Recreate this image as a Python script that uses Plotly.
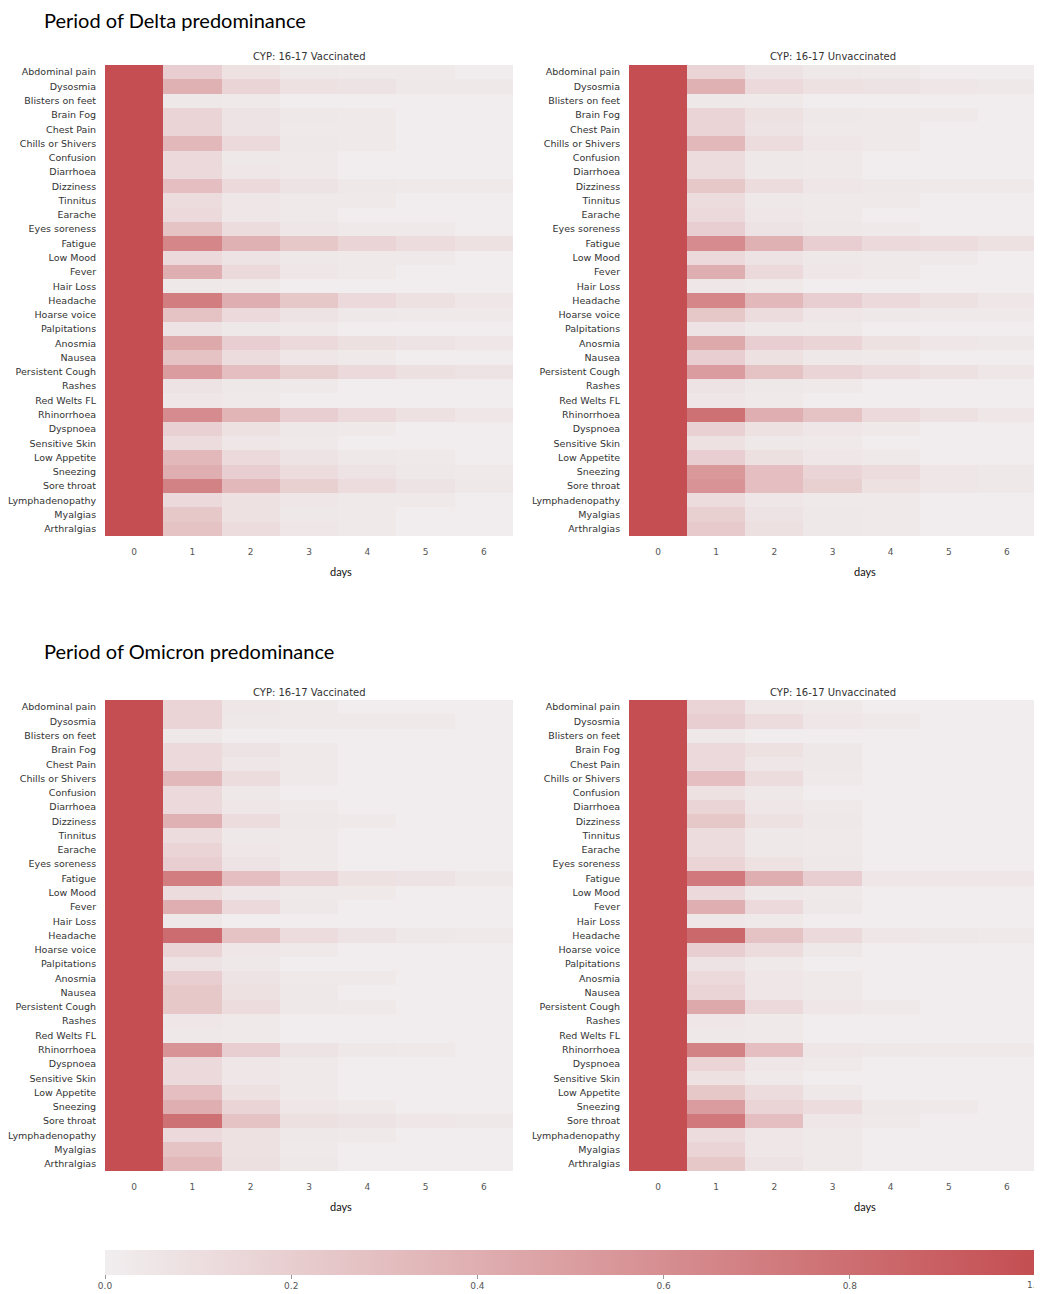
import plotly.graph_objects as go

symptoms = ["Abdominal pain", "Dysosmia", "Blisters on feet", "Brain Fog", "Chest Pain",
            "Chills or Shivers", "Confusion", "Diarrhoea", "Dizziness", "Tinnitus", "Earache",
            "Eyes soreness", "Fatigue", "Low Mood", "Fever", "Hair Loss", "Headache",
            "Hoarse voice", "Palpitations", "Anosmia", "Nausea", "Persistent Cough", "Rashes",
            "Red Welts FL", "Rhinorrhoea", "Dyspnoea", "Sensitive Skin", "Low Appetite",
            "Sneezing", "Sore throat", "Lymphadenopathy", "Myalgias", "Arthralgias"]
days = [0, 1, 2, 3, 4, 5, 6]

delta_vacc = [
    [1, 0.20, 0.08, 0.04, 0.03, 0.03, 0.01],
    [1, 0.38, 0.16, 0.08, 0.07, 0.04, 0.04],
    [1, 0.04, 0.03, 0.01, 0.01, 0.01, 0.01],
    [1, 0.16, 0.07, 0.04, 0.03, 0.01, 0.01],
    [1, 0.16, 0.07, 0.03, 0.03, 0.01, 0.01],
    [1, 0.34, 0.13, 0.04, 0.03, 0.01, 0.01],
    [1, 0.13, 0.04, 0.03, 0.01, 0.01, 0.01],
    [1, 0.13, 0.05, 0.03, 0.01, 0.01, 0.01],
    [1, 0.30, 0.13, 0.07, 0.04, 0.03, 0.03],
    [1, 0.11, 0.05, 0.03, 0.03, 0.01, 0.01],
    [1, 0.13, 0.05, 0.03, 0.01, 0.01, 0.01],
    [1, 0.27, 0.11, 0.05, 0.03, 0.03, 0.01],
    [1, 0.65, 0.38, 0.24, 0.16, 0.11, 0.08],
    [1, 0.13, 0.07, 0.04, 0.03, 0.03, 0.01],
    [1, 0.40, 0.13, 0.05, 0.03, 0.01, 0.01],
    [1, 0.04, 0.03, 0.01, 0.01, 0.01, 0.01],
    [1, 0.70, 0.40, 0.24, 0.13, 0.08, 0.05],
    [1, 0.27, 0.13, 0.07, 0.04, 0.03, 0.03],
    [1, 0.07, 0.04, 0.03, 0.01, 0.01, 0.01],
    [1, 0.43, 0.20, 0.13, 0.09, 0.07, 0.05],
    [1, 0.27, 0.11, 0.05, 0.03, 0.01, 0.01],
    [1, 0.51, 0.30, 0.19, 0.13, 0.09, 0.07],
    [1, 0.07, 0.04, 0.03, 0.01, 0.01, 0.01],
    [1, 0.05, 0.03, 0.01, 0.01, 0.01, 0.01],
    [1, 0.61, 0.36, 0.20, 0.13, 0.08, 0.05],
    [1, 0.18, 0.08, 0.04, 0.03, 0.01, 0.01],
    [1, 0.11, 0.05, 0.03, 0.01, 0.01, 0.01],
    [1, 0.34, 0.13, 0.07, 0.04, 0.03, 0.01],
    [1, 0.40, 0.20, 0.11, 0.07, 0.04, 0.03],
    [1, 0.68, 0.34, 0.19, 0.11, 0.07, 0.04],
    [1, 0.13, 0.08, 0.05, 0.03, 0.03, 0.01],
    [1, 0.24, 0.08, 0.04, 0.03, 0.01, 0.01],
    [1, 0.27, 0.11, 0.05, 0.03, 0.01, 0.01],
]

delta_unvacc = [
    [1, 0.16, 0.07, 0.04, 0.03, 0.01, 0.01],
    [1, 0.38, 0.13, 0.08, 0.07, 0.05, 0.04],
    [1, 0.04, 0.03, 0.01, 0.01, 0.01, 0.01],
    [1, 0.16, 0.08, 0.04, 0.03, 0.03, 0.01],
    [1, 0.16, 0.07, 0.03, 0.03, 0.01, 0.01],
    [1, 0.34, 0.11, 0.05, 0.03, 0.01, 0.01],
    [1, 0.11, 0.04, 0.03, 0.01, 0.01, 0.01],
    [1, 0.11, 0.04, 0.03, 0.01, 0.01, 0.01],
    [1, 0.24, 0.11, 0.05, 0.04, 0.03, 0.03],
    [1, 0.11, 0.04, 0.03, 0.03, 0.01, 0.01],
    [1, 0.13, 0.05, 0.03, 0.01, 0.01, 0.01],
    [1, 0.20, 0.07, 0.04, 0.03, 0.01, 0.01],
    [1, 0.61, 0.38, 0.20, 0.13, 0.11, 0.08],
    [1, 0.13, 0.07, 0.04, 0.03, 0.03, 0.01],
    [1, 0.40, 0.13, 0.05, 0.03, 0.01, 0.01],
    [1, 0.05, 0.03, 0.01, 0.01, 0.01, 0.01],
    [1, 0.65, 0.34, 0.20, 0.13, 0.08, 0.05],
    [1, 0.24, 0.11, 0.05, 0.04, 0.03, 0.03],
    [1, 0.07, 0.04, 0.03, 0.01, 0.01, 0.01],
    [1, 0.43, 0.20, 0.16, 0.08, 0.05, 0.04],
    [1, 0.20, 0.08, 0.04, 0.03, 0.01, 0.01],
    [1, 0.51, 0.27, 0.16, 0.11, 0.08, 0.05],
    [1, 0.07, 0.04, 0.03, 0.01, 0.01, 0.01],
    [1, 0.05, 0.03, 0.01, 0.01, 0.01, 0.01],
    [1, 0.78, 0.40, 0.27, 0.13, 0.08, 0.05],
    [1, 0.18, 0.08, 0.05, 0.03, 0.01, 0.01],
    [1, 0.08, 0.04, 0.03, 0.01, 0.01, 0.01],
    [1, 0.20, 0.09, 0.05, 0.03, 0.01, 0.01],
    [1, 0.54, 0.30, 0.16, 0.11, 0.05, 0.04],
    [1, 0.57, 0.30, 0.19, 0.08, 0.05, 0.04],
    [1, 0.11, 0.05, 0.03, 0.03, 0.01, 0.01],
    [1, 0.19, 0.07, 0.04, 0.03, 0.01, 0.01],
    [1, 0.22, 0.09, 0.04, 0.03, 0.01, 0.01],
]

omicron_vacc = [
    [1, 0.16, 0.05, 0.03, 0.01, 0.01, 0.01],
    [1, 0.16, 0.04, 0.03, 0.03, 0.03, 0.01],
    [1, 0.04, 0.01, 0.01, 0.01, 0.01, 0.01],
    [1, 0.13, 0.07, 0.03, 0.01, 0.01, 0.01],
    [1, 0.13, 0.05, 0.03, 0.01, 0.01, 0.01],
    [1, 0.34, 0.11, 0.03, 0.01, 0.01, 0.01],
    [1, 0.13, 0.04, 0.01, 0.01, 0.01, 0.01],
    [1, 0.13, 0.05, 0.03, 0.01, 0.01, 0.01],
    [1, 0.38, 0.11, 0.04, 0.03, 0.01, 0.01],
    [1, 0.11, 0.04, 0.03, 0.01, 0.01, 0.01],
    [1, 0.16, 0.05, 0.03, 0.01, 0.01, 0.01],
    [1, 0.20, 0.07, 0.03, 0.01, 0.01, 0.01],
    [1, 0.70, 0.30, 0.16, 0.08, 0.07, 0.04],
    [1, 0.11, 0.05, 0.03, 0.03, 0.01, 0.01],
    [1, 0.40, 0.13, 0.04, 0.01, 0.01, 0.01],
    [1, 0.04, 0.01, 0.01, 0.01, 0.01, 0.01],
    [1, 0.81, 0.27, 0.11, 0.07, 0.04, 0.03],
    [1, 0.16, 0.05, 0.03, 0.01, 0.01, 0.01],
    [1, 0.07, 0.04, 0.01, 0.01, 0.01, 0.01],
    [1, 0.20, 0.07, 0.03, 0.03, 0.01, 0.01],
    [1, 0.24, 0.08, 0.04, 0.01, 0.01, 0.01],
    [1, 0.24, 0.11, 0.04, 0.03, 0.01, 0.01],
    [1, 0.05, 0.03, 0.01, 0.01, 0.01, 0.01],
    [1, 0.04, 0.03, 0.01, 0.01, 0.01, 0.01],
    [1, 0.57, 0.20, 0.07, 0.04, 0.03, 0.01],
    [1, 0.13, 0.05, 0.03, 0.01, 0.01, 0.01],
    [1, 0.13, 0.05, 0.03, 0.01, 0.01, 0.01],
    [1, 0.30, 0.08, 0.03, 0.01, 0.01, 0.01],
    [1, 0.40, 0.16, 0.05, 0.03, 0.01, 0.01],
    [1, 0.78, 0.27, 0.09, 0.07, 0.05, 0.04],
    [1, 0.13, 0.08, 0.04, 0.03, 0.01, 0.01],
    [1, 0.27, 0.08, 0.03, 0.01, 0.01, 0.01],
    [1, 0.34, 0.09, 0.04, 0.01, 0.01, 0.01],
]

omicron_unvacc = [
    [1, 0.16, 0.05, 0.03, 0.01, 0.01, 0.01],
    [1, 0.20, 0.11, 0.05, 0.03, 0.01, 0.01],
    [1, 0.04, 0.01, 0.01, 0.01, 0.01, 0.01],
    [1, 0.13, 0.08, 0.04, 0.01, 0.01, 0.01],
    [1, 0.13, 0.05, 0.04, 0.01, 0.01, 0.01],
    [1, 0.30, 0.11, 0.03, 0.01, 0.01, 0.01],
    [1, 0.08, 0.04, 0.01, 0.01, 0.01, 0.01],
    [1, 0.16, 0.05, 0.03, 0.01, 0.01, 0.01],
    [1, 0.24, 0.08, 0.04, 0.01, 0.01, 0.01],
    [1, 0.11, 0.04, 0.03, 0.01, 0.01, 0.01],
    [1, 0.11, 0.04, 0.03, 0.01, 0.01, 0.01],
    [1, 0.16, 0.08, 0.04, 0.01, 0.01, 0.01],
    [1, 0.74, 0.40, 0.20, 0.05, 0.05, 0.05],
    [1, 0.13, 0.04, 0.03, 0.01, 0.01, 0.01],
    [1, 0.40, 0.13, 0.04, 0.01, 0.01, 0.01],
    [1, 0.05, 0.03, 0.01, 0.01, 0.01, 0.01],
    [1, 0.84, 0.27, 0.13, 0.05, 0.04, 0.03],
    [1, 0.20, 0.11, 0.04, 0.01, 0.01, 0.01],
    [1, 0.07, 0.03, 0.01, 0.01, 0.01, 0.01],
    [1, 0.13, 0.05, 0.03, 0.01, 0.01, 0.01],
    [1, 0.16, 0.05, 0.03, 0.01, 0.01, 0.01],
    [1, 0.43, 0.13, 0.05, 0.03, 0.01, 0.01],
    [1, 0.05, 0.03, 0.01, 0.01, 0.01, 0.01],
    [1, 0.04, 0.03, 0.01, 0.01, 0.01, 0.01],
    [1, 0.68, 0.30, 0.05, 0.04, 0.03, 0.03],
    [1, 0.16, 0.05, 0.03, 0.01, 0.01, 0.01],
    [1, 0.08, 0.03, 0.01, 0.01, 0.01, 0.01],
    [1, 0.24, 0.11, 0.04, 0.01, 0.01, 0.01],
    [1, 0.51, 0.16, 0.11, 0.04, 0.03, 0.01],
    [1, 0.74, 0.30, 0.05, 0.03, 0.01, 0.01],
    [1, 0.11, 0.05, 0.03, 0.01, 0.01, 0.01],
    [1, 0.16, 0.05, 0.03, 0.01, 0.01, 0.01],
    [1, 0.24, 0.07, 0.03, 0.01, 0.01, 0.01],
]

panel_titles = ["CYP: 16-17 Vaccinated", "CYP: 16-17 Unvaccinated",
                "CYP: 16-17 Vaccinated", "CYP: 16-17 Unvaccinated"]
section_titles = ["Period of Delta predominance", "Period of Omicron predominance"]
cbar_tickvals = [0.0, 0.2, 0.4, 0.6, 0.8]
cbar_ticktext = ["0.0", "0.2", "0.4", "0.6", "0.8"]
cbar_end_label = "1.0"

# The page body has an 8px margin, so the figure is drawn from (8, 8) on screen.
OFF = 8
W, H = 1042 - OFF, 1294 - OFF
colorscale = [[0.0, "#f1eeef"], [1.0, "#c44e52"]]

def px_x(v):
    return (v - OFF) / W

def px_y(v):
    return 1 - (v - OFF) / H

# panel pixel boxes in screen coordinates: (x0, x1, ytop, ybottom)
boxes = [(105, 513, 65, 536), (629, 1036, 65, 536),
         (105, 513, 700, 1171), (629, 1036, 700, 1171)]
panels = [delta_vacc, delta_unvacc, omicron_vacc, omicron_unvacc]

fig = go.Figure()
annotations = []
layout_axes = {}
for i, (data, box) in enumerate(zip(panels, boxes)):
    n = i + 1
    xa = "x" if n == 1 else f"x{n}"
    ya = "y" if n == 1 else f"y{n}"
    fig.add_trace(go.Heatmap(
        z=data, x=days, y=symptoms, xaxis=xa, yaxis=ya,
        zmin=0, zmax=1, colorscale=colorscale, xgap=0, ygap=0,
        showscale=(i == 0),
        colorbar=dict(
            orientation="h", x=px_x((105 + 1036) / 2), xanchor="center",
            y=px_y(1250), yanchor="top", len=(1036 - 105) / W, lenmode="fraction",
            thickness=25, thicknessmode="pixels", outlinewidth=0,
            tickmode="array", tickvals=cbar_tickvals, ticktext=cbar_ticktext,
            ticks="outside", ticklen=4, tickcolor="#999", tickwidth=1,
            tickfont=dict(size=9, color="#555", family="DejaVu Sans"),
            xpad=0, ypad=0,
        ),
    ))
    x0, x1, yt, yb = box
    kx = "xaxis" if n == 1 else f"xaxis{n}"
    ky = "yaxis" if n == 1 else f"yaxis{n}"
    layout_axes[kx] = dict(
        domain=[px_x(x0), px_x(x1)], anchor=ya, tickmode="array", tickvals=days,
        ticks="outside", ticklen=7, tickcolor="rgba(0,0,0,0)",
        tickfont=dict(size=9, color="#555", family="DejaVu Sans"),
        showgrid=False, zeroline=False, showline=False, fixedrange=True,
    )
    layout_axes[ky] = dict(
        domain=[px_y(yb), px_y(yt)], anchor=xa, autorange="reversed",
        type="category", ticks="outside", ticklen=6, tickcolor="rgba(0,0,0,0)",
        tickfont=dict(size=9.5, color="#333", family="DejaVu Sans"),
        showgrid=False, zeroline=False, showline=False, fixedrange=True,
    )
    annotations.append(dict(
        text=panel_titles[i], x=px_x((x0 + x1) / 2), y=px_y(yt - 8),
        xref="paper", yref="paper", showarrow=False, xanchor="center", yanchor="middle",
        font=dict(size=10, color="#333", family="DejaVu Sans"),
    ))
    annotations.append(dict(
        text="days", x=px_x((x0 + x1) / 2 + 32), y=px_y(yb + 35),
        xref="paper", yref="paper", showarrow=False, xanchor="center", yanchor="middle",
        font=dict(size=11, color="#111", family="Lato"),
    ))

for t, yy in zip(section_titles, [20, 651]):
    annotations.append(dict(
        text=t, x=px_x(42), y=px_y(yy), xref="paper", yref="paper", showarrow=False,
        xanchor="left", yanchor="middle", font=dict(size=20, color="#000", family="Lato"),
    ))

# end label of the colour bar (plotly drops tick labels that overflow the page edge)
annotations.append(dict(
    text=cbar_end_label, x=px_x(1034), y=px_y(1285), xref="paper", yref="paper",
    showarrow=False, xanchor="center", yanchor="middle",
    font=dict(size=9, color="#555", family="DejaVu Sans"),
))

fig.update_layout(
    width=W, height=H, margin=dict(l=0, r=0, t=0, b=0),
    paper_bgcolor="white", plot_bgcolor="white",
    annotations=annotations, showlegend=False, **layout_axes,
)

fig.write_html("out.html")
